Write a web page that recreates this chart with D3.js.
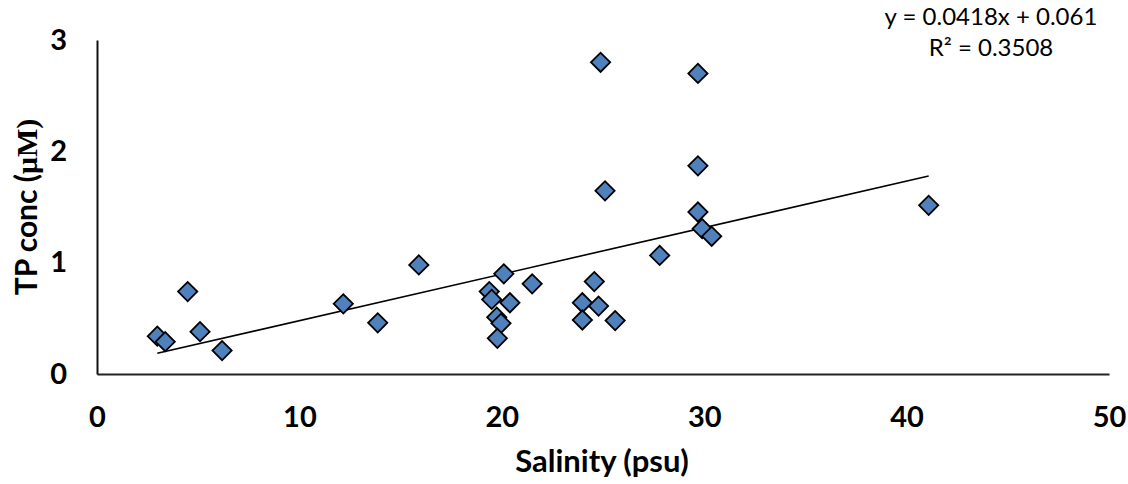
<!DOCTYPE html>
<html>
<head>
<meta charset="utf-8">
<script src="https://cdn.jsdelivr.net/npm/d3@7"></script>
<style>
  body { margin: 0; background: #fff; }
  svg text { fill: #000; }
</style>
</head>
<body>
<svg id="chart"></svg>
<script>
const width = 1128, height = 484;

// salinity (psu) and TP concentration (µM)
const salinity = [2.98, 3.37, 4.48, 5.09, 6.18, 12.17, 13.87, 15.9, 19.38, 19.5,
                  20.1, 20.4, 21.5, 19.75, 19.96, 19.78, 23.98, 24.57, 24.78, 23.98,
                  25.6, 27.8, 24.88, 29.69, 29.69, 29.69, 29.9, 30.37, 41.09, 25.1];
const tpConc   = [0.34, 0.29, 0.74, 0.38, 0.21, 0.63, 0.46, 0.98, 0.74, 0.67,
                  0.90, 0.64, 0.81, 0.51, 0.455, 0.32, 0.64, 0.83, 0.61, 0.485,
                  0.48, 1.065, 2.80, 2.70, 1.87, 1.455, 1.305, 1.237, 1.515, 1.645];
const xTicks = [0, 10, 20, 30, 40, 50];
const yTicks = [0, 1, 2, 3];
const slope = 0.0418, intercept = 0.061;
const equationLines = ["y = 0.0418x + 0.061", "R\u00B2 = 0.3508"];

const points = salinity.map((s, i) => ({x: s, y: tpConc[i]}));

const svg = d3.select("#chart")
              .attr("width", width)
              .attr("height", height);

const x = d3.scaleLinear().domain([0, 50]).range([97, 1109]);
const y = d3.scaleLinear().domain([0, 3]).range([374, 40]);

const tickFont = "Lato, 'Open Sans', sans-serif";

// x axis
const xAxis = svg.append("g")
                 .attr("transform", `translate(0,${y(0)})`)
                 .call(d3.axisBottom(x).tickValues(xTicks).tickFormat(d3.format("d"))
                                       .tickSize(0).tickPadding(32));
xAxis.select(".domain").attr("stroke", "#222").attr("stroke-width", 2);
xAxis.selectAll("text")
     .style("font-family", tickFont)
     .style("font-weight", "bold")
     .style("font-size", "29px")
     .attr("fill", "#000");

// y axis
const yAxis = svg.append("g")
                 .attr("transform", `translate(${x(0)},0)`)
                 .call(d3.axisLeft(y).tickValues(yTicks).tickFormat(d3.format("d"))
                                     .tickSize(0).tickPadding(30));
yAxis.select(".domain").attr("stroke", "#111").attr("stroke-width", 2);
yAxis.selectAll("text")
     .style("font-family", tickFont)
     .style("font-weight", "bold")
     .style("font-size", "29px")
     .attr("fill", "#000");

// axis titles
svg.append("text")
   .attr("x", 602)
   .attr("y", 472)
   .attr("text-anchor", "middle")
   .style("font-family", tickFont)
   .style("font-weight", "bold")
   .style("font-size", "31px")
   .text("Salinity (psu)");

const yTitle = svg.append("text")
                  .attr("transform", "translate(37,207) rotate(-90)")
                  .attr("text-anchor", "middle")
                  .style("font-weight", "bold")
                  .style("font-size", "30px");
yTitle.append("tspan")
      .style("font-family", tickFont)
      .text("TP conc (");
yTitle.append("tspan")
      .style("font-family", "'Liberation Serif', 'DejaVu Serif', serif")
      .text("\u03BCM)");

// trend line
const xExtent = d3.extent(salinity);
const trend = xExtent.map(v => ({x: v, y: slope * v + intercept}));
svg.append("path")
   .datum(trend)
   .attr("fill", "none")
   .attr("stroke", "#000")
   .attr("stroke-width", 1.6)
   .attr("d", d3.line().x(d => x(d.x)).y(d => y(d.y)));

// markers
const diamond = d3.symbol().type(d3.symbolSquare).size(185);
svg.append("g")
   .selectAll("path")
   .data(points)
   .enter()
   .append("path")
   .attr("d", diamond)
   .attr("transform", d => `translate(${x(d.x)},${y(d.y)}) rotate(45)`)
   .attr("fill", "#4F81BD")
   .attr("stroke", "#000")
   .attr("stroke-width", 1.8);

// equation label
svg.append("g")
   .selectAll("text")
   .data(equationLines)
   .enter()
   .append("text")
   .attr("x", 991)
   .attr("y", (d, i) => 25 + i * 31)
   .attr("text-anchor", "middle")
   .style("font-family", tickFont)
   .style("font-size", "24px")
   .text(d => d);
</script>
</body>
</html>
